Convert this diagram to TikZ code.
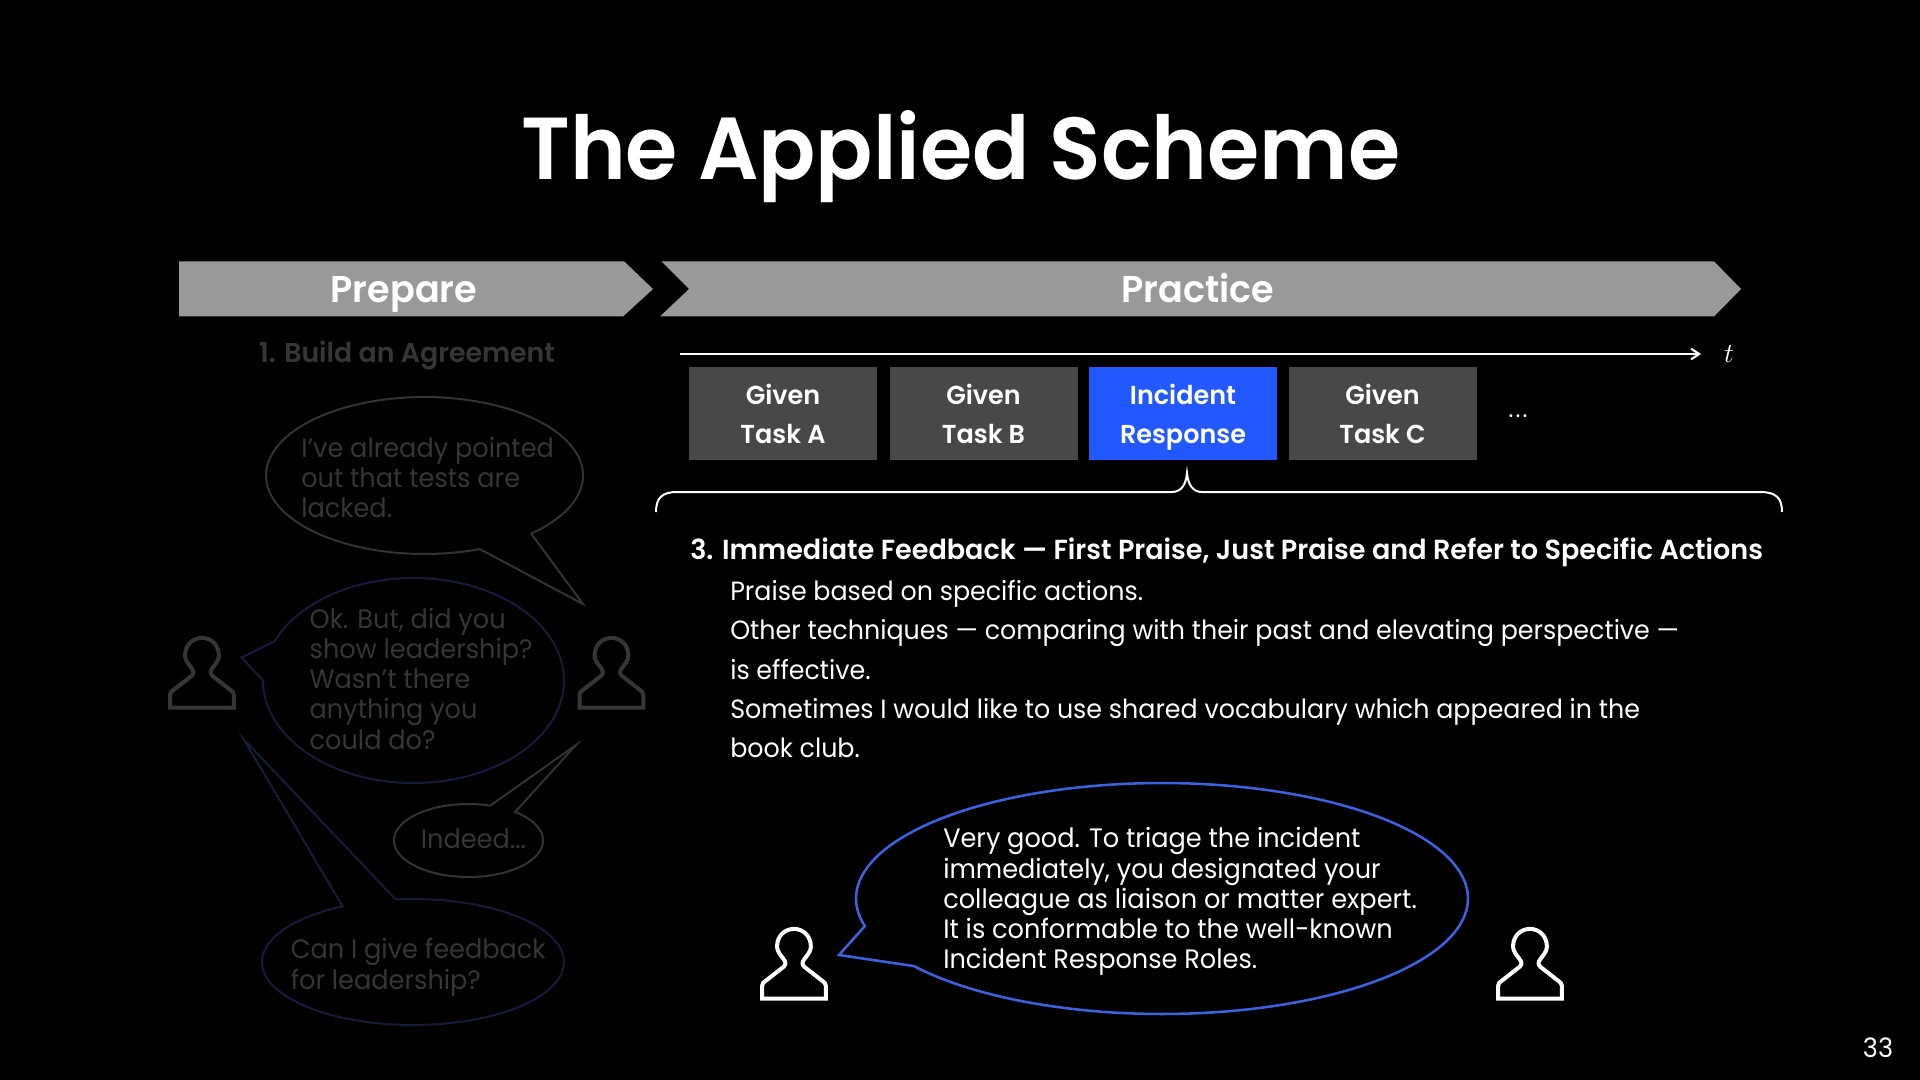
\documentclass[tikz,border=0pt]{standalone}
\usepackage{fontspec}
\setmainfont{Poppins}[FakeStretch=0.96,BoldFont={Poppins SemiBold},BoldFeatures={FakeStretch=0.98}]
\newfontfamily\titlefont{Poppins SemiBold}[FakeStretch=0.96]
\usetikzlibrary{arrows.meta}
\definecolor{bar}{HTML}{999999}
\definecolor{box}{HTML}{484848}
\definecolor{hot}{HTML}{2158FF}
\definecolor{line}{HTML}{3B63E0}
\definecolor{dimg}{HTML}{333333}
\definecolor{dimb}{HTML}{141C38}
\definecolor{dimt}{HTML}{363636}
\newcommand{\fs}[2]{\fontsize{#1}{#2}\selectfont}
\newcommand{\person}[3]{%
  \begin{scope}[shift={(#1+2,#2-1.5)},xscale=0.94,yscale=0.96]
  \draw[#3,line width=3pt,line join=miter] (0,0) -- (68,0) -- (68,-13)
    .. controls (68,-16) and (66,-17) .. (64,-18.5) -- (45,-33)
    .. controls (42,-36) and (43,-38) .. (45,-41)
    .. controls (48,-45) and (52,-49) .. (52,-54)
    .. controls (52,-65) and (44,-72.5) .. (34,-72.5)
    .. controls (24,-72.5) and (16,-65) .. (16,-54)
    .. controls (16,-49) and (20,-45) .. (23,-41)
    .. controls (25,-38) and (26,-36) .. (23,-33)
    -- (4,-18.5) .. controls (2,-17) and (0,-16) .. (0,-13) -- cycle;
  \end{scope}}
% cx cy rx ry from to tipx tipy style
\newcommand{\bubble}[9]{%
  \draw[#9,line join=miter] plot[domain=#5:#6,samples=150] ({#1+#3*cos(\x)},{#2+#4*sin(\x)}) -- (#7,#8) -- cycle;}
\tikzset{
  tasktext/.style={text=white,inner sep=0pt,align=center,anchor=base,font=\fs{19.5}{29.5}\bfseries},
  taskbox/.style={fill=box,draw=none,minimum width=188*0.75pt,minimum height=93*0.75pt,inner sep=0pt},
  dim/.style={text=dimt,inner sep=0pt,align=left,anchor=base west,font=\fs{20}{22.6}},
  speech/.style={text=white,inner sep=0pt,align=left,anchor=base west,font=\fs{20}{22.6}},
  body/.style={text=white,inner sep=0pt,anchor=base west,font=\fs{19.8}{24}},
  dg/.style={draw=dimg,line width=1.5pt},
  db/.style={draw=dimb,line width=1.5pt},
  bl/.style={draw=line,line width=1.9pt},
}
\begin{document}
\begin{tikzpicture}[x=0.75pt,y=-0.75pt]
\useasboundingbox[fill=black] (0,0) rectangle (1920,1080);
\node[text=white,inner sep=0pt,anchor=base,font=\fs{66}{80}\titlefont] (title) at (961,180) {The Applied Scheme};
\fill[bar] (179,261.3) -- (624,261.3) -- (653,289) -- (623,316.5) -- (179,316.5) -- cycle;
\fill[bar] (661.5,261.3) -- (1714,261.3) -- (1741,289) -- (1714,316.5) -- (660,316.5) -- (689,289) -- cycle;
\node[text=white,inner sep=0pt,anchor=base,font=\fs{28}{32}\bfseries] (prep) at (404,302.5) {Prepare};
\node[text=white,inner sep=0pt,anchor=base,font=\fs{28}{32}\bfseries] (prac) at (1198,302.5) {Practice};
% timeline
\coordinate (t0) at (680,354);
\coordinate (t1) at (1701,354);
\draw[white,line width=1.6pt,-{Straight Barb[length=6pt,width=8pt]}] (t0) -- (t1);
\node[text=white,inner sep=0pt,font=\fs{21}{24}] (tlabel) at (1729,354) {$t$};
% tasks
\node[taskbox] (a) at (783,413.5) {};
\node[taskbox] (b) at (983.5,413.5) {};
\node[taskbox,fill=hot] (c) at (1183,413.5) {};
\node[taskbox] (d) at (1382.5,413.5) {};
\node[tasktext] (ta) at (783,443.5) {Given\\Task A};
\node[tasktext] (tb) at (983.5,443.5) {Given\\Task B};
\node[tasktext] (tc) at (1183,443.5) {Incident\\Response};
\node[tasktext] (td) at (1382.5,443.5) {Given\\Task C};
\node[text=white,inner sep=0pt,anchor=base,font=\fs{18}{20}] (dots) at (1518,417) {.\hspace{1.6pt}.\hspace{1.6pt}.};
% brace
\draw[white,line width=1.5pt] (656,512) .. controls (656,498) and (662,492) .. (677,492) -- (1172,492)
  .. controls (1181,492) and (1186,485) .. (1187,473) .. controls (1188,485) and (1193,492) .. (1202,492)
  -- (1760,492) .. controls (1776,492) and (1782,498) .. (1782,512);
% body text
\node[body,font=\fs{20.7}{24}\bfseries] (h) at (690,559.3) {3. Immediate Feedback — First Praise, Just Praise and Refer to Specific Actions};
\node[body] (l1) at (730,600.5) {Praise based on specific actions.};
\node[body] (l2) at (730,639.8) {Other techniques — comparing with their past and elevating perspective —};
\node[body] (l3) at (730,679) {is effective.};
\node[body] (l4) at (730,718.2) {Sometimes I would like to use shared vocabulary which appeared in the};
\node[body] (l5) at (730,757.5) {book club.};
% left panel
\node[text=dimt,inner sep=0pt,anchor=base,font=\fs{20.5}{24}\bfseries] (sub) at (407,363) {1. Build an Agreement};
\bubble{424.5}{475.5}{158.5}{78.5}{69.6}{407.7}{583}{604}{dg}
\node[dim] (s1) at (301,517.4) {I’ve already pointed\\out that tests are\\lacked.};
\bubble{413.5}{680.5}{150.5}{102.5}{202.5}{540}{241.5}{657.5}{db}
\node[dim] (s2) at (309.4,749) {Ok. But, did you\\show leadership?\\Wasn’t there\\anything you\\could do?};
\bubble{468.5}{840.5}{74.5}{36.5}{308.7}{647}{576}{745}{dg}
\node[dim] (s3) at (420.6,848) {Indeed...};
\bubble{413}{962}{151}{63}{263.4}{602.2}{243.5}{739}{db}
\node[dim] (s4) at (290.5,989) {Can I give feedback\\for leadership?};
\person{168}{709}{draw=dimt}
\person{577.5}{709}{draw=dimt}
% main bubble
\bubble{1162}{898.5}{306}{115.5}{166.2}{504.2}{839}{955}{bl}
\node[speech] (sp) at (943,968.5) {Very good. To triage the incident\\immediately, you designated your\\colleague as liaison or matter expert.\\It is conformable to the well-known\\Incident Response Roles.};
\person{760}{1000}{draw=white}
\person{1496}{1000}{draw=white}
\node[text=white,inner sep=0pt,font=\fs{20}{22}] (pg) at (1878,1048) {33};
\end{tikzpicture}
\end{document}
